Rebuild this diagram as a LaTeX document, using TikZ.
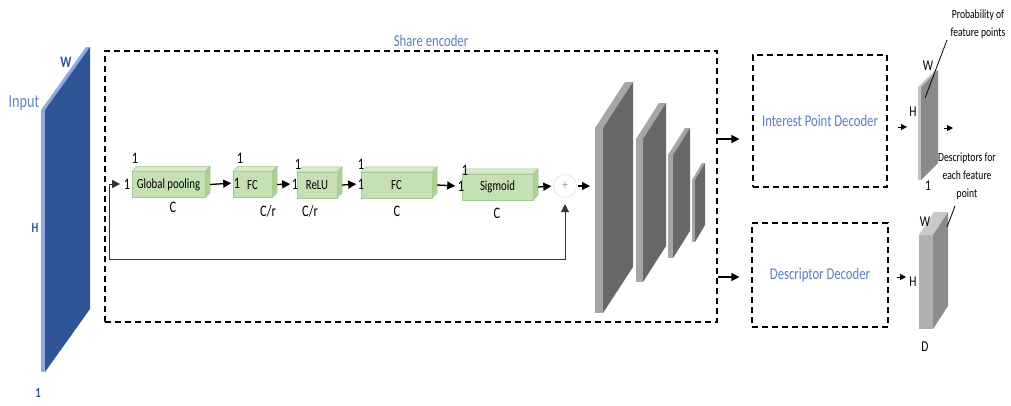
\documentclass[tikz,border=0pt]{standalone}
\usepackage{fontspec}
\setmainfont{Carlito}[FakeStretch=0.77]
\usetikzlibrary{arrows.meta,calc}
\definecolor{inpDark}{RGB}{47,85,151}
\definecolor{inpLight}{RGB}{143,170,220}
\definecolor{lblBlue}{RGB}{91,125,190}
\definecolor{inpText}{RGB}{100,135,200}
\definecolor{gFront}{RGB}{197,224,180}
\definecolor{gTop}{RGB}{214,234,202}
\definecolor{gSide}{RGB}{172,208,148}
\definecolor{gEdge}{RGB}{165,200,145}
\definecolor{grDark}{RGB}{104,104,104}
\definecolor{grLight}{RGB}{166,166,166}
\definecolor{slDark}{RGB}{138,138,138}
\definecolor{slLight}{RGB}{195,195,195}
\definecolor{plusC}{RGB}{130,160,200}
\newcommand\gcube[2]{%
  \filldraw[fill=gTop,draw=gEdge,line width=0.4pt] (#1.north west) -- ++(#2,-#2) -- ($(#1.north east)+(#2,-#2)$) -- (#1.north east) -- cycle;
  \filldraw[fill=gSide,draw=gEdge,line width=0.4pt] (#1.north east) -- ++(#2,-#2) -- ($(#1.south east)+(#2,-#2)$) -- (#1.south east) -- cycle;}
% x, strip width, ytop, ybot, dx, dy, dark, light
\newcommand\myslab[8]{%
  \fill[#8] (#1-#2,#3) rectangle (#1,#4);
  \fill[#8] (#1-#2,#3) -- (#1-#2+#5,#3-#6) -- (#1+#5,#3-#6) -- (#1,#3) -- cycle;
  \fill[#7] (#1,#3) -- (#1+#5,#3-#6) -- (#1+#5,#4-#6) -- (#1,#4) -- cycle;}
\begin{document}
\begin{tikzpicture}[x=1pt,y=-1pt,
  arr/.style={line width=1.3pt,-{Triangle[length=8pt,width=8pt]}},
  sarr/.style={line width=1pt,-{Triangle[length=6pt,width=6pt]}},
  skip/.style={line width=1pt,draw=black!80,-{Triangle[length=8pt,width=8pt]}},
  dbox/.style={draw,line width=1.2pt,dash pattern=on 6pt off 4pt,inner sep=0pt},
  gbox/.style={draw=gEdge,line width=0.4pt,fill=gFront,minimum height=26pt,inner sep=0pt,font=\fontsize{14}{16}\selectfont},
  num/.style={font=\fontsize{16}{18}\selectfont,inner sep=0.5pt},
  sm/.style={font=\fontsize{15}{17}\selectfont,inner sep=0.5pt},
  ann/.style={font=\fontsize{12.5}{18}\selectfont,align=center,inner sep=0pt},
  dectext/.style={font=\fontsize{16.5}{18}\selectfont,text=lblBlue}
]
\useasboundingbox (0,0) rectangle (1011,405);

% input slab
\myslab{45}{4}{110}{372}{45}{63}{inpDark}{inpLight}
\node[font=\fontsize{18.5}{20}\selectfont,text=inpText,inner sep=0pt] (tin) at (24,103) {Input};
\node[font=\bfseries\fontsize{16}{18}\selectfont,text=inpDark,inner sep=0pt] (tw) at (66,62) {W};
\node[font=\bfseries\fontsize{14}{16}\selectfont,text=inpDark,inner sep=0pt] (th) at (35,228) {H};
\node[font=\bfseries\fontsize{14}{16}\selectfont,text=inpDark,inner sep=0pt] (t1) at (38,393) {1};

% share encoder
\node[dbox,minimum width=612pt,minimum height=271pt] (enc) at (411,186.5) {};
\node[dectext,inner sep=0pt] (tse) at (431,41) {Share encoder};

% SE blocks
\node[gbox,minimum width=73pt] (gp) at (168.5,184.5) {Global pooling};
\node[gbox,minimum width=39pt] (fc1) at (252.5,184.5) {FC};
\node[gbox,minimum width=40pt] (relu) at (317,185) {ReLU};
\node[gbox,minimum width=71pt] (fc2) at (396.5,185) {FC};
\node[gbox,minimum width=71pt] (sig) at (497.5,187) {Sigmoid};
\gcube{gp}{5}
\gcube{fc1}{5}
\gcube{relu}{5}
\gcube{fc2}{5}
\gcube{sig}{5}

\node[num] (gpl) at (127,184) {1};
\node[num] (gpt) at (135,158) {1};
\node[num] (fc1l) at (237,183) {1};
\node[num] (fc1t) at (240,158) {1};
\node[num] (relul) at (295,184) {1};
\node[num] (relut) at (298,164) {1};
\node[num] (fc2l) at (361,184) {1};
\node[num] (fc2t) at (361,164) {1};
\node[num] (sigl) at (461,186) {1};
\node[num] (sigt) at (465,170) {1};
\node[num] (gpc) at (173,207) {C};
\node[num] (fc1c) at (268,211) {C/r};
\node[num] (reluc) at (310,211) {C/r};
\node[num] (fc2c) at (397,211) {C};
\node[num] (sigc) at (497,213) {C};

\draw[arr,shorten >=2pt] ([xshift=5pt]gp.east) -- (fc1l.west);
\draw[arr,shorten >=1pt] ([xshift=5pt]fc1.east) -- (relul.west);
\draw[arr,shorten >=1pt] ([xshift=5pt]relu.east) -- (fc2l.west);
\draw[arr,shorten >=2pt] ([xshift=5pt]fc2.east) -- (sigl.west);

\node[circle,draw=black!15,fill=white,minimum size=23pt,inner sep=0pt,text=plusC,font=\fontsize{14}{14}\selectfont] (plus) at (565,186) {+};
\draw[arr,shorten >=2pt] ([xshift=5pt]sig.east) -- (plus.west);
\coordinate (fin) at (590,186);
\draw[arr,shorten <=1pt] (plus.east) -- (fin);

\coordinate (sk) at (109,259);
\draw[skip,shorten >=3pt] (sk) |- (gpl.west);
\draw[skip,shorten >=6.5pt] (sk) -| (plus.south);

% encoder feature maps
\myslab{603}{8}{128}{313}{30}{46}{grDark}{grLight}
\myslab{643}{7}{139}{282}{23}{36}{grDark}{grLight}
\myslab{673}{5}{155}{258}{17}{27}{grDark}{grLight}
\myslab{695}{3}{180}{242}{10}{17}{grDark}{grLight}

% decoders
\node[dbox,minimum width=134pt,minimum height=132pt,dectext] (ipd) at (820,121) {Interest Point Decoder};
\node[dbox,minimum width=136pt,minimum height=104pt,dectext] (dd) at (820,275) {Descriptor Decoder};
\coordinate (a1) at (enc.east |- 0,139);
\draw[arr,shorten >=13pt] (a1) -- (a1 -| ipd.west);
\coordinate (a2) at (enc.east |- 0,277);
\draw[arr,shorten >=12pt] (a2) -- (a2 -| dd.west);

% interest point output
\myslab{921}{3}{87}{180}{17}{17}{slDark}{slLight}
\coordinate (s1) at (907,127);
\draw[sarr,shorten <=10pt] (ipd.east |- s1) -- (s1);
\coordinate (p1) at (938,128);
\coordinate (s2) at (953,128);
\draw[sarr,shorten <=6pt] (p1) -- (s2);
\node[sm] (w1) at (928,66) {W};
\node[sm] (h1) at (913,112) {H};
\node[sm] (o1) at (928,186) {1};
\coordinate (l1a) at (925,98);
\coordinate (l1b) at (947,40);
\draw[line width=0.8pt] (l1a) -- (l1b);
\node[ann] (prob) at (978,24) {Probability of\\feature points};
\node[ann] (desc) at (967,176) {Descriptors for\\each feature\\point};

% descriptor output
\fill[black!31] (919,235) rectangle (933,329);
\fill[black!21] (919,235) -- (934,212) -- (948,212) -- (933,235) -- cycle;
\fill[black!45] (933,235) -- (948,212) -- (948,306) -- (933,329) -- cycle;
\coordinate (s3) at (906,277);
\draw[sarr,shorten <=8pt] (dd.east |- s3) -- (s3);
\node[sm] (w2) at (925,222) {W};
\node[sm] (h2) at (913,282) {H};
\node[sm] (d2) at (925,347) {D};
\coordinate (l2a) at (947,227);
\coordinate (l2b) at (955,206);
\draw[line width=0.8pt] (l2a) -- (l2b);
\end{tikzpicture}
\end{document}
